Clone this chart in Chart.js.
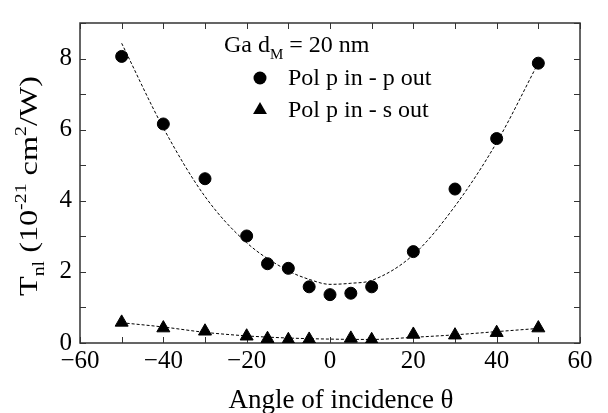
<!DOCTYPE html>
<html>
<head>
<meta charset="utf-8">
<script src="https://cdn.jsdelivr.net/npm/chart.js@4.4.1/dist/chart.umd.min.js"></script>
<style>
  body { margin: 0; background: #fff; }
</style>
</head>
<body>
<canvas id="tnlChart" width="608" height="413"></canvas>
<script>
// measured points, p in - p out (circles)
const anglesPP = [-50, -40, -30, -20, -15, -10, -5, 0, 5, 10, 20, 30, 40, 50];
const tnlPP = [8.06, 6.16, 4.62, 3.01, 2.23, 2.10, 1.58, 1.36, 1.40, 1.58, 2.57, 4.33, 5.75, 7.87];

// measured points, p in - s out (triangles)
const anglesPS = [-50, -40, -30, -20, -15, -10, -5, 5, 10, 20, 30, 40, 50];
const tnlPS = [0.58, 0.42, 0.33, 0.19, 0.12, 0.09, 0.10, 0.13, 0.09, 0.24, 0.22, 0.29, 0.42];

// dashed fit curves
const fitAnglesPP = [-50, -40, -30, -20, -10, -5, 0, 5, 10, 20, 30, 40, 50];
const fitPP = [8.43, 6.05, 4.12, 2.82, 2.03, 1.79, 1.65, 1.68, 1.76, 2.48, 3.85, 5.64, 7.88];
const fitAnglesPS = [-50, -40, -30, -20, -10, 0, 10, 20, 30, 40, 50];
const fitPS = [0.57, 0.45, 0.30, 0.20, 0.14, 0.11, 0.10, 0.16, 0.23, 0.32, 0.41];

const xTicks = [-60, -40, -20, 0, 20, 40, 60];
const yTicks = [0, 2, 4, 6, 8];
const xMinor = [-60, -50, -40, -30, -20, -10, 0, 10, 20, 30, 40, 50, 60];
const yMinor = [0, 1, 2, 3, 4, 5, 6, 7, 8, 9];

const serif = "'Liberation Serif', 'Times New Roman', serif";

function toPoints(xs, ys) {
    return xs.map((x, i) => ({ x: x, y: ys[i] }));
}

// draw text with sub/superscripts, parts = [[text, 'n'|'sub'|'sup'], ...]
function richWidth(ctx, parts, size) {
    let w = 0;
    parts.forEach(p => {
        const s = p[1] === 'n' ? size : Math.round(size * 0.62);
        ctx.font = s + 'px ' + serif;
        w += ctx.measureText(p[0]).width;
    });
    return w;
}

function drawRich(ctx, parts, x, y, size) {
    parts.forEach(p => {
        let s = size, dy = 0;
        if (p[1] === 'sub') { s = Math.round(size * 0.62); dy = size * 0.28; }
        if (p[1] === 'sup') { s = Math.round(size * 0.62); dy = -size * 0.42; }
        ctx.font = s + 'px ' + serif;
        ctx.fillText(p[0], x, y + dy);
        x += ctx.measureText(p[0]).width;
    });
}

const framePlugin = {
    id: 'frame',
    beforeDatasetsDraw(chart) {
        const { ctx, chartArea: a, scales: { x, y } } = chart;
        ctx.save();
        ctx.strokeStyle = '#333';
        ctx.lineWidth = 1.5;
        ctx.strokeRect(a.left, a.top, a.right - a.left, a.bottom - a.top);
        ctx.lineWidth = 1;
        ctx.beginPath();
        xMinor.forEach(v => {
            const px = Math.round(x.getPixelForValue(v)) + 0.5;
            ctx.moveTo(px, a.bottom); ctx.lineTo(px, a.bottom - 6);
            ctx.moveTo(px, a.top); ctx.lineTo(px, a.top + 6);
        });
        yMinor.forEach(v => {
            const py = Math.round(y.getPixelForValue(v)) + 0.5;
            ctx.moveTo(a.left, py); ctx.lineTo(a.left + 6, py);
            ctx.moveTo(a.right, py); ctx.lineTo(a.right - 6, py);
        });
        ctx.stroke();
        ctx.restore();
    },
    afterDraw(chart) {
        const ctx = chart.ctx;
        ctx.save();
        ctx.fillStyle = '#000';
        ctx.textBaseline = 'alphabetic';
        ctx.textAlign = 'left';

        // x axis title
        ctx.font = '27px ' + serif;
        ctx.textAlign = 'center';
        ctx.fillText('Angle of incidence \u03b8', 341, 408);
        ctx.textAlign = 'left';

        // y axis title, rotated and a little stretched like the original
        const yTitle = [['T', 'n'], ['nl', 'sub'], [' (10', 'n'], ['-21', 'sup'], [' cm', 'n'], ['2', 'sup'], ['/W)', 'n']];
        ctx.save();
        ctx.translate(37, 186);
        ctx.rotate(-Math.PI / 2);
        const w = richWidth(ctx, yTitle, 26);
        ctx.scale(220 / w, 1);
        drawRich(ctx, yTitle, -w / 2, 0, 26);
        ctx.restore();

        // legend block
        drawRich(ctx, [['Ga d', 'n'], ['M', 'sub'], [' = 20 nm', 'n']], 224, 52, 24);
        Chart.helpers.drawPoint(ctx, { pointStyle: 'circle', radius: 6.5, borderWidth: 0 }, 260, 78);
        ctx.fillStyle = '#000';
        Chart.helpers.drawPoint(ctx, { pointStyle: 'triangle', radius: 8, borderWidth: 0 }, 260, 110);
        ctx.fillStyle = '#000';
        ctx.font = '24px ' + serif;
        ctx.fillText('Pol p in - p out', 288, 85);
        ctx.fillText('Pol p in - s out', 288, 117);
        ctx.restore();
    }
};

const ctx = document.getElementById('tnlChart').getContext('2d');
new Chart(ctx, {
    type: 'scatter',
    data: {
        datasets: [{
            label: 'Pol p in - p out',
            data: toPoints(anglesPP, tnlPP),
            pointStyle: 'circle',
            pointRadius: 6,
            backgroundColor: '#000',
            borderColor: '#000',
            borderWidth: 1
        }, {
            label: 'Pol p in - s out',
            data: toPoints(anglesPS, tnlPS),
            pointStyle: 'triangle',
            pointRadius: 7.5,
            backgroundColor: '#000',
            borderColor: '#000',
            borderWidth: 1
        }, {
            label: 'fit pp',
            data: toPoints(fitAnglesPP, fitPP),
            showLine: true,
            cubicInterpolationMode: 'monotone',
            pointRadius: 0,
            borderColor: '#000',
            borderWidth: 1,
            borderDash: [3, 2]
        }, {
            label: 'fit ps',
            data: toPoints(fitAnglesPS, fitPS),
            showLine: true,
            cubicInterpolationMode: 'monotone',
            pointRadius: 0,
            borderColor: '#000',
            borderWidth: 1,
            borderDash: [3, 2]
        }]
    },
    options: {
        responsive: false,
        animation: false,
        layout: { padding: { top: 11, right: 28, left: 0, bottom: 0 } },
        plugins: {
            legend: { display: false },
            tooltip: { enabled: false }
        },
        scales: {
            x: {
                type: 'linear',
                min: -60,
                max: 60,
                afterBuildTicks: s => { s.ticks = xTicks.map(v => ({ value: v })); },
                afterFit: s => { s.height = 70; },
                grid: { display: false, drawTicks: false },
                border: { display: false },
                ticks: {
                    padding: 3,
                    maxRotation: 0,
                    color: '#000',
                    font: { family: serif, size: 25 },
                    callback: v => v < 0 ? '\u2212' + Math.abs(v) : String(v)
                }
            },
            y: {
                min: 0,
                max: 9,
                afterBuildTicks: s => { s.ticks = yTicks.map(v => ({ value: v })); },
                afterFit: s => { s.width = 80; },
                grid: { display: false, drawTicks: false },
                border: { display: false },
                ticks: {
                    padding: 8,
                    color: '#000',
                    font: { family: serif, size: 25 }
                }
            }
        }
    },
    plugins: [framePlugin]
});
</script>
</body>
</html>
